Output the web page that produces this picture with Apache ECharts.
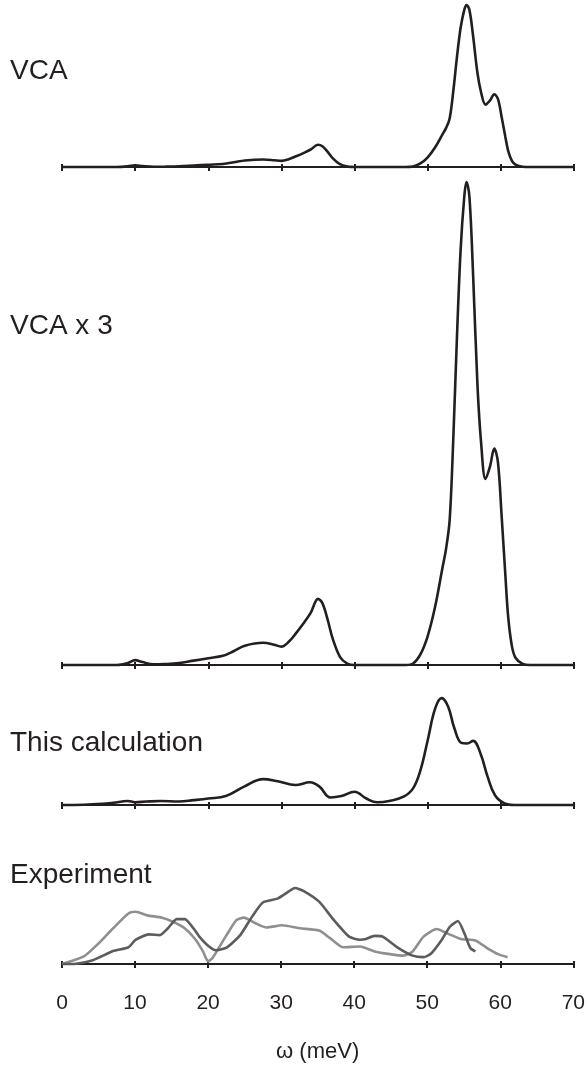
<!DOCTYPE html>
<html>
<head>
<meta charset="utf-8">
<script src="https://cdn.jsdelivr.net/npm/echarts@6/dist/echarts.min.js"></script>
<style>
  html, body { margin: 0; padding: 0; background: #fff; }
  #chart { width: 588px; height: 1068px; }
</style>
</head>
<body>
<div id="chart"></div>
<script>
// x tick labels (meV)
const omegaTicks = [0, 10, 20, 30, 40, 50, 60, 70]

// VCA spectrum (peak normalised to 100); same curve is drawn again at x3
const vcaOmega = [0, 7.5, 9, 10, 11, 12.5, 14, 16, 18, 20, 22, 23.5, 25, 27.5, 29, 30, 31, 32, 33, 34, 35, 35.6, 36.3, 37, 38, 39, 40, 47, 48, 49, 50, 51, 52, 52.5, 53, 53.5, 54, 54.5, 55, 55.3, 55.7, 56.2, 56.8, 57.3, 57.9, 58.5, 59.1, 59.6, 60.1, 60.6, 61, 61.5, 62, 63, 64, 70]
const vcaValues = [0, 0, 0.4, 1.0, 0.6, 0.15, 0.2, 0.4, 0.9, 1.4, 1.9, 2.9, 4.0, 4.6, 4.2, 3.8, 4.8, 6.6, 8.6, 10.8, 13.7, 12.8, 9.5, 5.5, 1.7, 0.3, 0, 0, 0.3, 2.2, 6, 12, 20, 24, 30, 47, 68, 86, 97, 100, 97, 81, 58, 46, 38.5, 41, 44.8, 42, 31, 19, 10, 4, 1.5, 0.2, 0, 0]

// This calculation
const calcOmega = [0, 3, 5.5, 7, 9, 10, 11.5, 13.5, 16, 18, 20, 22.4, 24.9, 27.5, 29.5, 31.9, 33.9, 35.2, 36.7, 38.2, 40, 41.6, 43.1, 44.9, 46.7, 48, 49, 50, 51, 51.9, 52.8, 53.6, 54.6, 55.4, 56.2, 57.2, 58.2, 59.2, 60.5, 61.8, 70]
const calcValues = [0, 0.2, 1, 2, 3.7, 2.6, 3.2, 3.7, 3.2, 4.5, 6, 8.3, 17, 24, 22, 18.5, 21, 17, 7, 8.3, 12.3, 6, 2.5, 4, 7.7, 15.4, 32, 60, 89, 99, 91, 72, 57.5, 57, 59.4, 48, 26, 9, 1.5, 0, 0]

// Experiment, dark trace
const expDarkOmega = [0, 1.9, 4.2, 7, 9.1, 10.1, 11.9, 13.4, 14.5, 15.7, 16.8, 18.3, 18.8, 20, 21.1, 22.6, 24.4, 26, 27.5, 29.5, 30.6, 31.9, 33.1, 35.2, 37.2, 39.3, 40.8, 41.6, 42.8, 43.9, 45.9, 48, 49.5, 50.5, 52, 53.1, 54.2, 55.1, 55.9, 56.6]
const expDarkValues = [0, 0.4, 4.8, 17, 22, 32, 39, 38, 47, 59, 59, 43, 36, 24, 18, 22, 38, 62, 81, 86, 92.6, 100, 96, 82, 58, 36, 32, 33, 37, 36, 22, 11, 9, 13.5, 32, 49, 56.5, 40, 21, 16.5]

// Experiment, light trace
const expLightOmega = [0, 3, 5, 7, 9.1, 10.1, 11.7, 13.7, 15.2, 16.8, 18.3, 19.3, 20, 20.6, 22.4, 23.9, 24.9, 26.4, 28, 30.1, 32.6, 35.2, 36.7, 38.5, 40.8, 42.8, 44.9, 46.7, 48, 49.5, 51.3, 52.8, 54.6, 56.6, 58.2, 59.7, 61]
const expLightValues = [0, 10, 27, 47, 66.5, 68.7, 64, 61, 55.6, 47, 32, 16.5, 3.5, 7.8, 36, 58, 61, 54, 48, 51, 47, 44, 34, 22, 23, 16.5, 13, 11, 16.5, 36, 46, 40, 33, 31, 21, 13, 9]

const panelLabels = ["VCA", "VCA x 3", "This calculation", "Experiment"]

const zip = (xs, ys) => xs.map((x, i) => [x, ys[i]])

const ink = "#231f20"
const font = "'Liberation Sans', Arial, Helvetica, sans-serif"

// grid placement: axis baselines at y = 167, 665, 805, 964
const grids = [
  { left: 62, right: 14, top: 5, height: 162 },
  { left: 62, right: 14, top: 182, height: 483 },
  { left: 62, right: 14, top: 697, height: 108 },
  { left: 62, right: 14, top: 888, height: 76 },
]

const xAxes = []
grids.forEach((g, i) => {
  const last = i === grids.length - 1
  // main axis: line, outward ticks, labels on the bottom panel
  xAxes.push({
    type: "value",
    gridIndex: i,
    min: 0,
    max: 70,
    interval: 10,
    axisLine: { show: true, onZero: false, lineStyle: { color: ink, width: 2 } },
    axisTick: { show: true, length: 4, lineStyle: { color: ink, width: 2 } },
    splitLine: { show: false },
    axisLabel: {
      show: last,
      margin: 29,
      fontSize: 21,
      fontFamily: font,
      color: ink,
      formatter: (v) => (omegaTicks.includes(v) ? String(v) : ""),
    },
    name: last ? "ω (meV)" : "",
    nameLocation: "middle",
    nameGap: 77,
    nameTextStyle: { fontSize: 22, fontFamily: font, color: ink },
  })
  // second axis only to draw the upper half of the crossing tick marks
  xAxes.push({
    type: "value",
    gridIndex: i,
    position: "bottom",
    min: 0,
    max: 70,
    interval: 10,
    axisLine: { show: false, onZero: false },
    axisTick: { show: true, inside: true, length: 3, lineStyle: { color: ink, width: 2 } },
    splitLine: { show: false },
    axisLabel: { show: false },
  })
})

const yAxes = grids.map((g, i) => ({
  type: "value",
  gridIndex: i,
  min: 0,
  max: 100,
  show: false,
}))

const line = (xi, yi, data, color, smooth, z) => ({
  type: "line",
  xAxisIndex: xi,
  yAxisIndex: yi,
  data: data,
  smooth: smooth,
  showSymbol: false,
  clip: false,
  z: z || 2,
  lineStyle: { color: color, width: 2.6 },
})

const chart = echarts.init(document.getElementById("chart"), null, { renderer: "canvas" })

const labelStyle = (text) => ({ text: text, font: "28px " + font, fill: ink })

const option = {
  backgroundColor: "#fff",
  animation: false,
  grid: grids,
  xAxis: xAxes,
  yAxis: yAxes,
  graphic: [
    { type: "text", left: 10, top: 57, style: labelStyle(panelLabels[0]) },
    { type: "text", left: 10, top: 312, style: labelStyle(panelLabels[1]) },
    { type: "text", left: 10, top: 729, style: labelStyle(panelLabels[2]) },
    { type: "text", left: 10, top: 861, style: labelStyle(panelLabels[3]) },
  ],
  series: [
    line(0, 0, zip(vcaOmega, vcaValues), ink, 0.35),
    line(2, 1, zip(vcaOmega, vcaValues), ink, 0.35),
    line(4, 2, zip(calcOmega, calcValues), ink, 0.4),
    line(6, 3, zip(expLightOmega, expLightValues), "#8f8f8f", 0.2, 2),
    line(6, 3, zip(expDarkOmega, expDarkValues), "#5c5c5c", 0.2, 3),
  ],
}

chart.setOption(option)
</script>
</body>
</html>
